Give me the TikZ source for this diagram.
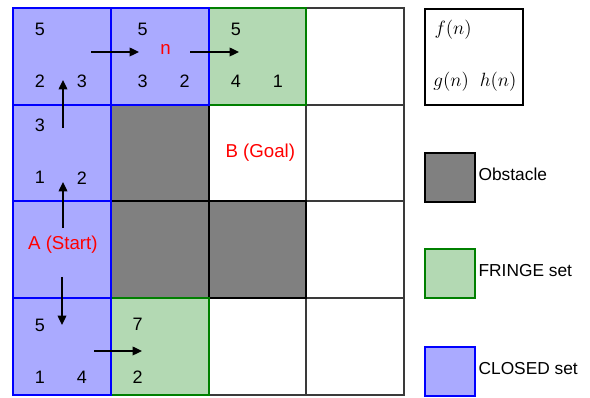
\documentclass[tikz,border=0pt]{standalone}
\usepackage{fontspec}
\setmainfont{Liberation Sans}
\usetikzlibrary{arrows.meta,positioning,calc}
\definecolor{ink}{HTML}{000000}
\definecolor{gridline}{HTML}{3A3A3A}
\definecolor{wall}{HTML}{808080}
\definecolor{closed}{HTML}{AAAAFF}
\definecolor{closedline}{HTML}{0000FF}
\definecolor{fringe}{HTML}{B3D9B3}
\definecolor{fringeline}{HTML}{008000}
\definecolor{tag}{HTML}{FF0000}
\newcommand{\cellw}{97.75}
\newcommand{\cellh}{96.75}
\newcommand{\X}[1]{13+(#1)*\cellw}
\newcommand{\Y}[1]{8+(#1)*\cellh}
\newcommand{\fgh}[6]{%
  \node[num] (#1-f) at ([shift={({#2},{#3})}]#1.north west) {#4};
  \node[num] (#1-g) at ([shift={({#2},{#3+52})}]#1.north west) {#5};
  \node[num] (#1-h) at ([shift={({#2+42},{#3+52})}]#1.north west) {#6};}

\begin{document}
\begin{tikzpicture}[x=0.75pt,y=-0.75pt,
  cell/.style={draw=gridline, line width=1.5pt, fill=white, inner sep=0pt, outer sep=0pt,
               minimum width={\cellw*0.75pt}, minimum height={\cellh*0.75pt}},
  freecell/.style={draw=gridline, fill=white},
  wallcell/.style={draw=ink, fill=wall},
  fringecell/.style={draw=fringeline, fill=fringe},
  closedcell/.style={draw=closedline, fill=closed},
  swatch/.style={cell, minimum width=37.5pt, minimum height=36.75pt},
  num/.style={font=\fontsize{13.5}{16}\selectfont, text=ink, inner sep=0pt},
  tagtext/.style={font=\fontsize{14}{16}\selectfont, text=tag, inner sep=0pt},
  mathlbl/.style={font=\fontsize{14.5}{17}\selectfont, text=ink, inner sep=0pt},
  legtext/.style={font=\fontsize{13}{15}\selectfont, text=ink, inner sep=1pt, anchor=west},
  hop/.style={-{Triangle[length=7pt,width=6.5pt]}, ink, line width=1pt}]

\useasboundingbox (0,0) rectangle (590,398);

% grid
\foreach \i/\j/\s in {3/0/freecell,2/1/freecell,3/1/freecell,3/2/freecell,2/3/freecell,3/3/freecell,
                      1/1/wallcell,1/2/wallcell,2/2/wallcell,
                      2/0/fringecell,1/3/fringecell,
                      0/0/closedcell,1/0/closedcell,0/1/closedcell,0/2/closedcell,0/3/closedcell}
  \node[cell,\s] (c\i\j) at ({\X{\i+0.5}},{\Y{\j+0.5}}) {};

% f, g, h values
\fgh{c00}{27}{21}{5}{2}{3}
\fgh{c10}{32}{21}{5}{3}{2}
\fgh{c20}{27.5}{21}{5}{4}{1}
\fgh{c01}{27}{21}{3}{1}{2}
\fgh{c03}{27}{27}{5}{1}{4}
\node[num] (c13-f) at ([shift={(27,26)}]c13.north west) {7};
\node[num] (c13-g) at ([shift={(27,79)}]c13.north west) {2};

\node[tagtext] (nlbl) at ([shift={(6,-7)}]c10.center) {n};
\node[tagtext] (goal) at ([shift={(3,0)}]c21.center) {B (Goal)};
\node[tagtext] (start) at ([shift={(1,-5)}]c02.center) {A (Start)};

% path arrows
\foreach \k/\xa/\ya/\xb/\yb in {1/91/52/139/52, 2/190/52/239/52, 3/63/128/63/80,
                                4/63/228/63/182, 5/62/277/62/325, 6/94/351/142/351} {
  \coordinate (s\k) at (\xa,\ya);
  \coordinate (t\k) at (\xb,\yb);
  \draw[hop] (s\k) -- (t\k);
}

% legend
\node[cell, draw=ink] (key) at (474,57) {};
\node[mathlbl] (key-f) at ([shift={(28,21)}]key.north west) {$f(n)$};
\node[mathlbl] (key-g) at ([shift={(26,73)}]key.north west) {$g(n)$};
\node[mathlbl] (key-h) at ([shift={(73,73)}]key.north west) {$h(n)$};

\foreach \n/\y/\s/\t in {obst/177.5/wallcell/Obstacle, fr/274/fringecell/FRINGE set, cl/371.5/closedcell/CLOSED set} {
  \node[swatch,\s] (k\n) at (450,\y) {};
  \node[legtext] (k\n-t) at ([shift={(2,-3)}]k\n.east) {\t};
}

\end{tikzpicture}
\end{document}
